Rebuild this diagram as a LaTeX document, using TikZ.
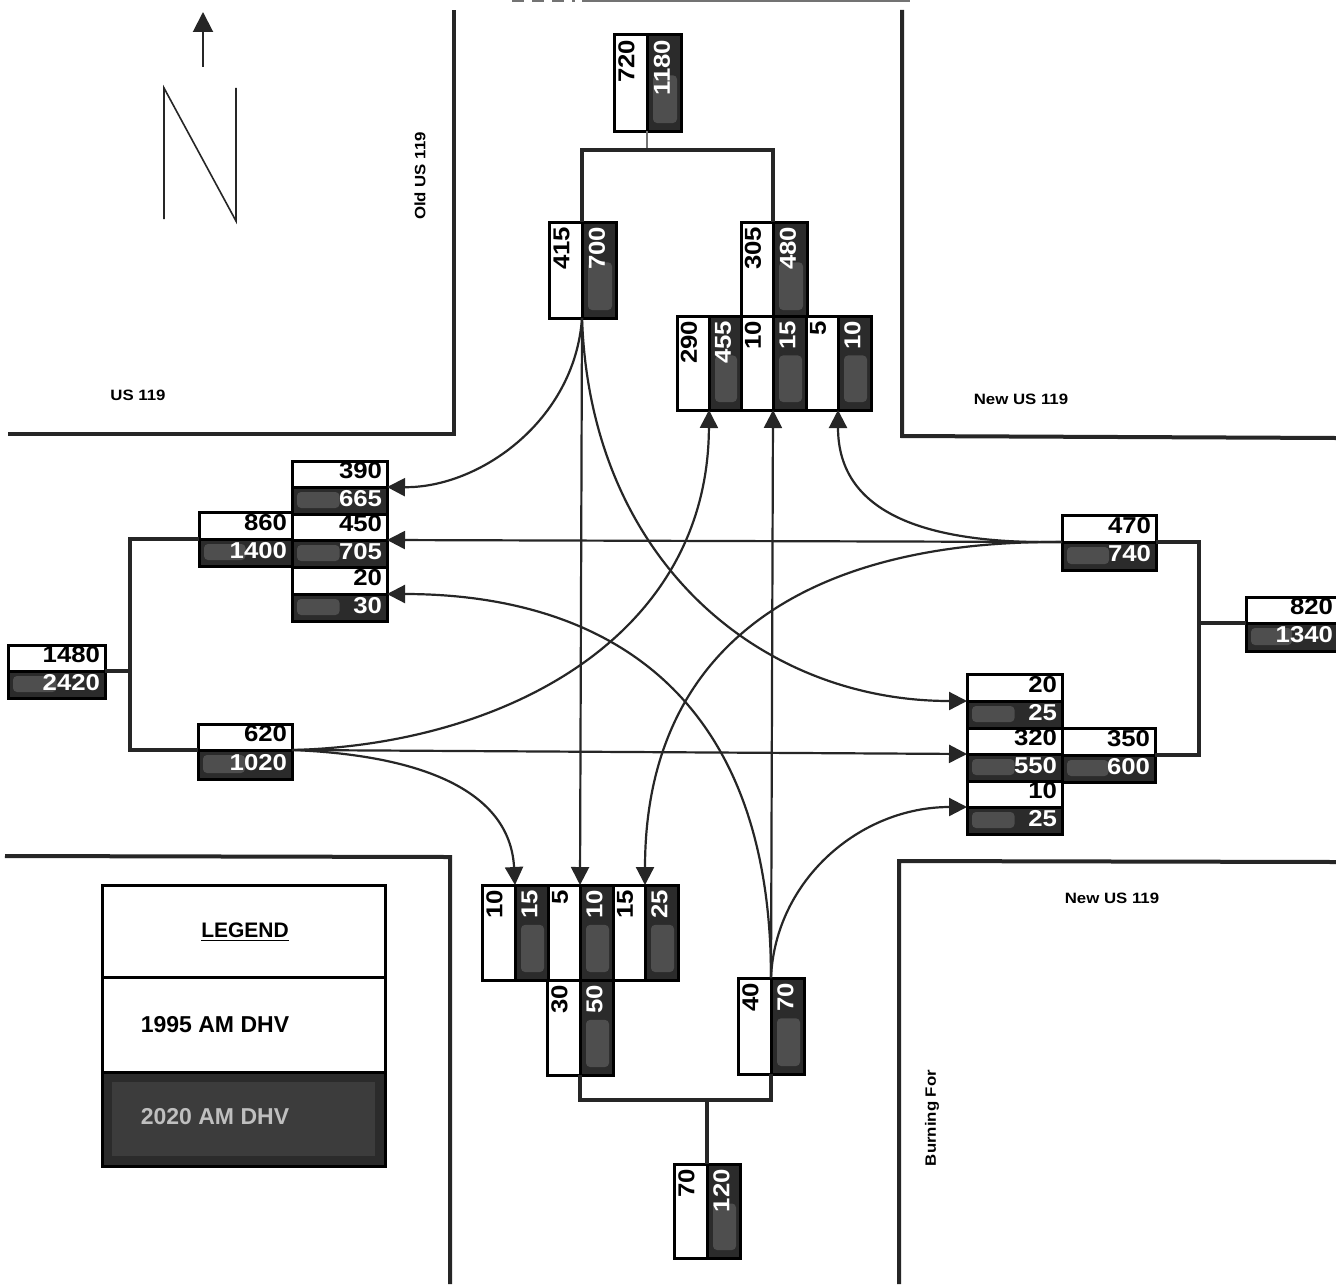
\documentclass[tikz,border=0pt]{standalone}
\usepackage{fontspec}
\setmainfont{Liberation Sans}
\newfontfamily\numf{Liberation Sans}[FakeStretch=1.12]
\usetikzlibrary{arrows.meta}
\definecolor{darkcell}{HTML}{2B2B2B}
\definecolor{blobc}{HTML}{4E4E4E}
\definecolor{legblob}{HTML}{3C3C3C}
\tikzset{
  cellbase/.style={rectangle,draw=black,line width=1.5pt,inner sep=0pt,outer sep=0pt},
  wcell/.style={cellbase,fill=white},
  dcell/.style={cellbase,fill=darkcell},
  numk/.style={inner sep=0pt,outer sep=0pt,text=black,font=\numf\fontsize{11.5}{12}\selectfont\bfseries},
  numw/.style={inner sep=0pt,outer sep=0pt,text=white,font=\numf\fontsize{11.5}{12}\selectfont\bfseries},
  roadlbl/.style={inner sep=0pt,font=\numf\fontsize{7.5}{8}\selectfont\bfseries},
  road/.style={line width=2pt,black!85},
  link/.style={line width=1.7pt,black!85},
  thinlink/.style={line width=0.6pt,black!55},
  flow/.style={line width=1.1pt,black!85,-{Triangle[length=9pt,width=9pt]}},
  northline/.style={line width=0.8pt,black!85},
  blob/.style={fill=blobc,rounded corners=2pt}
}
% horizontal pair: name x1 x2 y1 ymid y2 top bottom
\newcommand\hpair[8]{%
  \node[wcell,minimum width={(#3-#2)*0.5pt},minimum height={(#5-#4)*0.5pt}] (#1w) at ({(#2+#3)/2},{(#4+#5)/2}) {};
  \node[dcell,minimum width={(#3-#2)*0.5pt},minimum height={(#6-#5)*0.5pt}] (#1d) at ({(#2+#3)/2},{(#5+#6)/2}) {};
  \fill[blob] ({#2+5},{#5+5}) rectangle ({#2+(#3-#2)*0.5},{#6-6});
  \node[numk,anchor=east] (#1wt) at ({#3-5},{(#4+#5)/2-3}) {#7};
  \node[numw,anchor=east] (#1dt) at ({#3-5},{(#5+#6)/2-2}) {#8};
}
% vertical pair: name x1 xmid x2 y1 y2 left right
\newcommand\vpair[8]{%
  \node[wcell,minimum width={(#3-#2)*0.5pt},minimum height={(#6-#5)*0.5pt}] (#1w) at ({(#2+#3)/2},{(#5+#6)/2}) {};
  \node[dcell,minimum width={(#4-#3)*0.5pt},minimum height={(#6-#5)*0.5pt}] (#1d) at ({(#3+#4)/2},{(#5+#6)/2}) {};
  \fill[blob] ({#3+6},{#5+(#6-#5)*0.42}) rectangle ({#4-4},{#6-8});
  \node[numk,anchor=east,rotate=90] (#1wt) at ({(#2+#3)/2-4},{#5+5}) {#7};
  \node[numw,anchor=east,rotate=90] (#1dt) at ({(#3+#4)/2-2},{#5+5}) {#8};
}
\begin{document}
\begin{tikzpicture}[x=0.5pt,y=-0.5pt]
\useasboundingbox (0,0) rectangle (1336,1284);
\fill[white] (0,0) rectangle (1336,1284);

% cut-off line at the page top
\draw[line width=0.8pt,black!55] (582,0.8) -- (910,0.8);
\draw[line width=0.8pt,black!55,dash pattern=on 6pt off 4pt] (512,0.8) -- (575,0.8);

% road edges
\draw[road] (8,434) -- (454,434) -- (454,10);
\draw[road] (902,10) -- (902,436) -- (1336,438);
\draw[road] (5,856) -- (450,857) -- (450,1284);
\draw[road] (899,1284) -- (899,861) -- (1336,862);

% road labels
\node[roadlbl,rotate=90] (lblold) at (420,176) {Old US 119};
\node[roadlbl] (lblus) at (138,395) {US 119};
\node[roadlbl] (lblnew) at (1021,399) {New US 119};
\node[roadlbl] (lblnewb) at (1112,898) {New US 119};
\node[roadlbl,rotate=90] (lblburn) at (932,1118) {Burning For};

% north sign
\coordinate (ntail) at (203,67);
\coordinate (nhead) at (203,12);
\draw[line width=1pt,black!85,-{Triangle[length=10pt,width=10pt]}] (ntail) -- (nhead);
\draw[northline] (164,219) -- (164,88) -- (236,221) -- (236,88);

% count boxes
\vpair{na}{614}{647}{681}{35}{131}{720}{1180}
\vpair{nb}{549}{582}{616}{222}{318}{415}{700}
\vpair{nc}{741}{773}{807}{222}{318}{305}{480}
\vpair{nd}{677}{709}{741}{316}{410}{290}{455}
\vpair{ne}{741}{773}{806}{316}{410}{10}{15}
\vpair{nf}{806}{838}{871}{316}{410}{5}{10}

\hpair{wa}{292}{387}{461}{487}{514}{390}{665}
\hpair{wb}{199}{292}{512}{539}{566}{860}{1400}
\hpair{wc}{292}{387}{514}{540}{567}{450}{705}
\hpair{wd}{292}{387}{567}{594}{621}{20}{30}
\hpair{we}{8}{105}{645}{671}{698}{1480}{2420}
\hpair{wf}{198}{292}{724}{750}{779}{620}{1020}

\hpair{ea}{1062}{1156}{515}{542}{570}{470}{740}
\hpair{eb}{1246}{1338}{597}{623}{651}{820}{1340}
\hpair{ec}{967}{1062}{674}{701}{728}{20}{25}
\hpair{ee}{1062}{1155}{728}{755}{782}{350}{600}
\hpair{ed}{967}{1062}{728}{754}{781}{320}{550}
\hpair{ef}{967}{1062}{781}{807}{834}{10}{25}

\vpair{sa}{482}{515}{548}{885}{980}{10}{15}
\vpair{sb}{548}{580}{613}{885}{980}{5}{10}
\vpair{sc}{613}{645}{678}{885}{980}{15}{25}
\vpair{sd}{547}{580}{613}{980}{1075}{30}{50}
\vpair{se}{738}{771}{804}{978}{1074}{40}{70}
\vpair{sf}{674}{707}{740}{1164}{1258}{70}{120}

% tree connectors
\coordinate (jn) at (647,150);
\coordinate (js) at (707,1100);
\coordinate (jw) at (130,671);
\coordinate (je) at (1199,623);
\draw[thinlink] (naw.south east) -- (jn);
\draw[link] (nbw.north east) |- (jn) -| (ncw.north east);
\draw[link] (sdw.south east) |- (js) -| (sew.south east);
\draw[link] (js) -- (sfw.north east);
\draw[link] (wew.south east) -- (jw);
\draw[link] (wbw.south west) -| (jw) |- (wfw.south west);
\draw[link] (eaw.south east) -| (je);
\draw[link] (je) -- (ebw.south west);
\draw[link] (eew.south east) -| (je);

% turning flows
\draw[flow] (nbw.south east) .. controls (575,420) and (480,488) .. (wad.north east);
\draw[flow] (nbw.south east) -- (sbw.north east);
\draw[flow] (nbw.south east) .. controls (590,560) and (760,701) .. (ecd.north west);

\draw[flow] (wfd.north east) .. controls (500,745) and (708,640) .. (ndw.south east);
\draw[flow] (wfd.north east) -- (edd.north west);
\draw[flow] (wfd.north east) .. controls (420,755) and (510,790) .. (saw.north east);

\draw[flow] (ead.north west) -- (wcd.north east);
\draw[flow] (ead.north west) .. controls (900,545) and (838,500) .. (nfw.south east);
\draw[flow] (ead.north west) .. controls (800,540) and (645,650) .. (scw.north east);

\draw[flow] (sew.north east) -- (new.south east);
\draw[flow] (sew.north east) .. controls (771,680) and (590,594) .. (wdd.north east);
\draw[flow] (sew.north east) .. controls (775,880) and (860,807) .. (efd.north west);

% legend
\node[wcell,minimum width=141.5pt,minimum height=46pt] (lega) at (243.5,931) {};
\node[wcell,minimum width=141.5pt,minimum height=47.5pt] (legb) at (243.5,1024.5) {};
\node[dcell,minimum width=141.5pt,minimum height=47pt] (legc) at (243.5,1119) {};
\fill[legblob] (112,1082) rectangle (375,1156);
\node[inner sep=0pt,font=\fontsize{10.5}{12}\selectfont\bfseries] (legt) at (245,932) {\underline{LEGEND}};
\node[inner sep=0pt,font=\fontsize{11.5}{12}\selectfont\bfseries] (legu) at (215,1025) {1995 AM DHV};
\node[inner sep=0pt,text=black!25,font=\fontsize{11.5}{12}\selectfont\bfseries] (legv) at (215,1117) {2020 AM DHV};
\end{tikzpicture}
\end{document}
